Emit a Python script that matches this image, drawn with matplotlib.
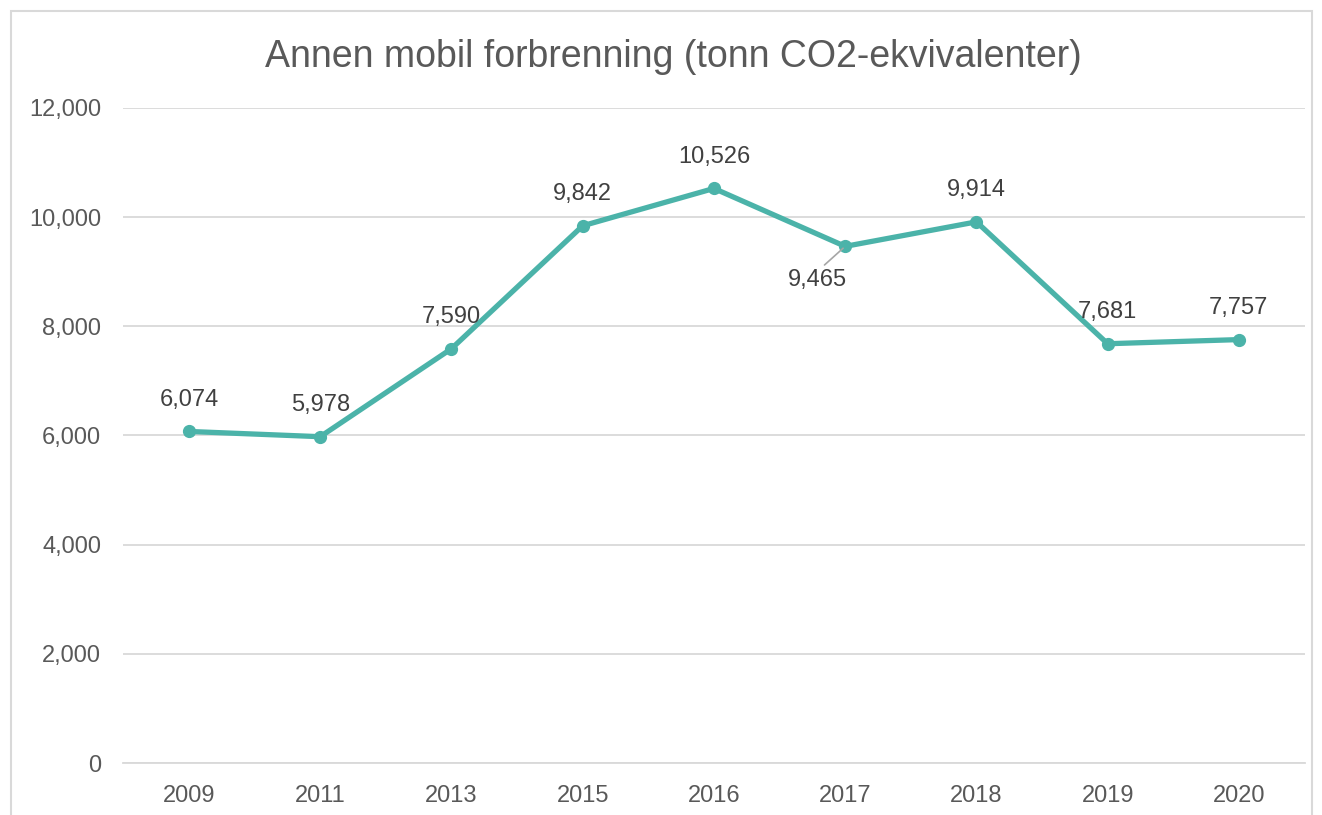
import matplotlib.pyplot as plt
from matplotlib.ticker import FuncFormatter
from matplotlib.patches import Rectangle

plt.rcParams['font.family'] = ['Liberation Sans', 'DejaVu Sans']

years = ['2009', '2011', '2013', '2015', '2016', '2017', '2018', '2019', '2020']
values = [6074, 5978, 7590, 9842, 10526, 9465, 9914, 7681, 7757]

teal = '#4BB3A9'
fig = plt.figure(figsize=(13.22, 8.15), dpi=100)
ax = fig.add_axes([0.0933, 0.0638, 0.8935, 0.8037])

# Rahmen rundt hele diagrammet
fig.patches.append(Rectangle((11 / 1322, -0.05), 1301 / 1322, 1.05 - 11 / 815,
                             transform=fig.transFigure, fill=False,
                             edgecolor='#D9D9D9', linewidth=1.5))

x = range(len(years))
ax.plot(x, values, color=teal, linewidth=3.8, marker='o', markersize=8.5,
        solid_capstyle='round', zorder=3)

for i, v in enumerate(values):
    txt = f'{v:,}'
    if years[i] == '2017':
        ax.annotate(txt, (i, v), xytext=(-20, -24), textcoords='offset points',
                    ha='center', va='center', fontsize=17, color='#404040',
                    arrowprops=dict(arrowstyle='-', color='#A6A6A6', lw=1.2,
                                    relpos=(0.55, 1.0), shrinkA=1, shrinkB=2))
    else:
        ax.annotate(txt, (i, v), xytext=(0, 23), textcoords='offset points',
                    ha='center', va='center', fontsize=17, color='#404040')

ax.set_xlim(-0.5, len(years) - 0.5)
ax.set_ylim(0, 12000)
ax.set_yticks(range(0, 12001, 2000))
ax.yaxis.set_major_formatter(FuncFormatter(lambda v, p: f'{int(v):,}'))
ax.set_xticks(list(x))
ax.set_xticklabels(years)
ax.grid(axis='y', color='#D9D9D9', linewidth=1.3)
ax.set_axisbelow(True)
for s in ['top', 'right', 'left']:
    ax.spines[s].set_visible(False)
ax.spines['bottom'].set_color('#D9D9D9')
ax.spines['bottom'].set_linewidth(1.3)
ax.tick_params(length=0, labelsize=17, labelcolor='#595959')
ax.tick_params(axis='x', pad=16)
ax.tick_params(axis='y', pad=16)

fig.text(0.509, 0.930, 'Annen mobil forbrenning (tonn CO2-ekvivalenter)',
         ha='center', va='center', fontsize=27, color='#595959')

fig.savefig('out.png', dpi=100)
